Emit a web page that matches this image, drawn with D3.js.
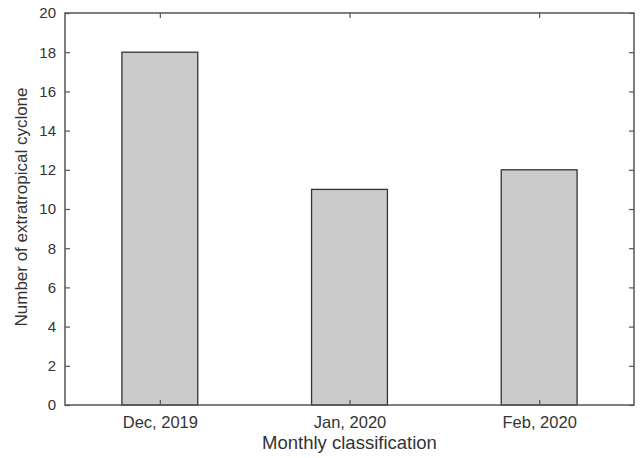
<!DOCTYPE html>
<html>
<head>
<meta charset="utf-8">
<script src="https://cdn.jsdelivr.net/npm/d3@7"></script>
<style>
  html, body { margin: 0; padding: 0; background: #fff; }
  svg { display: block; font-family: "Liberation Sans", Arial, Helvetica, sans-serif; }
</style>
</head>
<body>
<svg id="chart" width="641" height="458"></svg>
<script>
// Monthly counts of extratropical cyclones
const months = ["Dec, 2019", "Jan, 2020", "Feb, 2020"];
const counts = [18, 11, 12];
const yTicks = [0, 2, 4, 6, 8, 10, 12, 14, 16, 18, 20];

const W = 641, H = 458;
const margin = { left: 65, right: 7, top: 13, bottom: 53 };
const innerW = W - margin.left - margin.right;
const innerH = H - margin.top - margin.bottom;

const svg = d3.select("#chart");
const g = svg.append("g").attr("transform", `translate(${margin.left},${margin.top})`);

const x = d3.scaleBand().domain(months).range([0, innerW])
  .paddingInner(0.6).paddingOuter(0.3);
const y = d3.scaleLinear().domain([0, 20]).range([innerH, 0]);

const axisColor = "#555";
const textColor = "#333";

// bars
g.selectAll("rect.bar")
  .data(months.map((m, i) => ({ m, v: counts[i] })))
  .join("rect")
  .attr("class", "bar")
  .attr("x", d => x(d.m))
  .attr("y", d => y(d.v))
  .attr("width", x.bandwidth())
  .attr("height", d => y(0) - y(d.v))
  .attr("fill", "#cbcbcb")
  .attr("stroke", "#333")
  .attr("stroke-width", 1.3);

function styleAxis(sel, fontSize) {
  sel.select(".domain").remove();
  sel.selectAll(".tick line").attr("stroke", axisColor).attr("stroke-width", 1.2);
  sel.selectAll(".tick text").attr("fill", textColor).attr("font-size", fontSize)
    .attr("font-family", "'Liberation Sans', Arial, sans-serif");
}

// left axis (ticks inward)
g.append("g")
  .call(d3.axisLeft(y).tickValues(yTicks).tickSizeInner(-5).tickSizeOuter(0).tickPadding(9))
  .call(s => styleAxis(s, 15));

// right axis (ticks only)
g.append("g").attr("transform", `translate(${innerW},0)`)
  .call(d3.axisRight(y).tickValues(yTicks).tickSizeInner(-5).tickSizeOuter(0).tickFormat(""))
  .call(s => styleAxis(s, 15));

// bottom axis
const xCenter = d3.scalePoint().domain(months).range([x(months[0]) + x.bandwidth() / 2, x(months[2]) + x.bandwidth() / 2]);
g.append("g").attr("transform", `translate(0,${innerH})`)
  .call(d3.axisBottom(xCenter).tickSizeInner(-5).tickSizeOuter(0).tickPadding(11))
  .call(s => styleAxis(s, 16.5));

// top axis (ticks only)
g.append("g")
  .call(d3.axisTop(xCenter).tickSizeInner(-5).tickSizeOuter(0).tickFormat(""))
  .call(s => styleAxis(s, 16.5));

// frame
g.append("rect")
  .attr("x", 0).attr("y", 0).attr("width", innerW).attr("height", innerH)
  .attr("fill", "none").attr("stroke", axisColor).attr("stroke-width", 1.5);

// axis titles
svg.append("text")
  .attr("x", margin.left + innerW / 2).attr("y", 449)
  .attr("text-anchor", "middle").attr("fill", textColor)
  .attr("font-size", 18.5)
  .text("Monthly classification");

svg.append("text")
  .attr("transform", `translate(27,${margin.top + innerH / 2 - 2}) rotate(-90)`)
  .attr("text-anchor", "middle").attr("fill", textColor)
  .attr("font-size", 17)
  .text("Number of extratropical cyclone");
</script>
</body>
</html>
